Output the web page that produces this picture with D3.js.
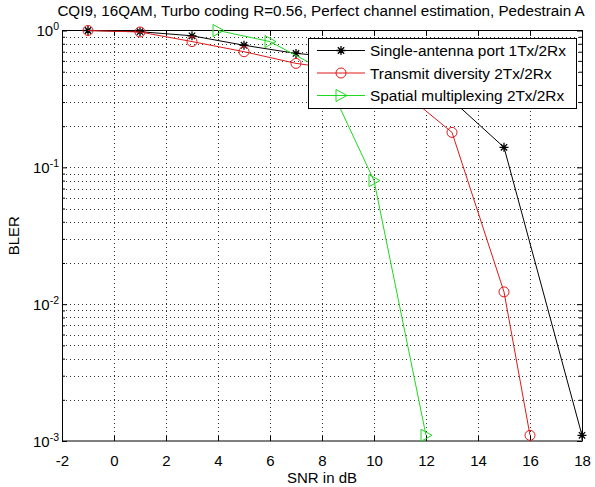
<!DOCTYPE html>
<html>
<head>
<meta charset="utf-8">
<script src="https://cdn.jsdelivr.net/npm/d3@7"></script>
<style>
  html, body { margin: 0; padding: 0; background: #fff; }
  svg { display: block; }
  text { font-family: "Liberation Sans", Arial, sans-serif; fill: #000; }
</style>
</head>
<body>
<svg id="chart" width="595" height="487"></svg>
<script>
// ---- data ----
const titleText = "CQI9, 16QAM, Turbo coding R=0.56, Perfect channel estimation, Pedestrain A";
const xLabel = "SNR in dB";
const yLabel = "BLER";
const xTicks = [-2, 0, 2, 4, 6, 8, 10, 12, 14, 16, 18];
const yExponents = [0, -1, -2, -3];

const seriesNames = ["Single-antenna port 1Tx/2Rx", "Transmit diversity 2Tx/2Rx", "Spatial multiplexing 2Tx/2Rx"];

const snrSingle = [-1, 1, 3, 5, 7, 9, 11, 13, 15, 18];
const blerSingle = [1.0, 0.98, 0.915, 0.78, 0.68, 0.63, 0.48, 0.31, 0.14, 0.0011];

const snrTxDiv = [-1, 1, 3, 5, 7, 9, 11, 13, 15, 16];
const blerTxDiv = [1.0, 0.975, 0.83, 0.70, 0.575, 0.51, 0.37, 0.18, 0.0123, 0.0011];

const snrSpatial = [4, 6, 8, 10, 12];
const blerSpatial = [1.0, 0.83, 0.52, 0.08, 0.0011];

// ---- layout ----
const svg = d3.select("#chart");
svg.append("rect").attr("width", 595).attr("height", 487).attr("fill", "#fff");

const L = 62, R = 582, T = 30.5, B = 441;
const FS = 15;
const x = d3.scaleLinear().domain([-2, 18]).range([L, R]);
const y = d3.scaleLog().domain([1e-3, 1]).range([B, T]);

// grid
const grid = svg.append("g").attr("stroke", "#333").attr("stroke-width", 1)
  .attr("stroke-dasharray", "1,3").attr("fill", "none").attr("shape-rendering", "crispEdges");
xTicks.slice(1, -1).forEach(v => {
  grid.append("line").attr("x1", Math.round(x(v)) + 0.5).attr("x2", Math.round(x(v)) + 0.5)
    .attr("y1", T).attr("y2", B);
});
const logTicks = [];
for (let e = -3; e < 0; e++) for (let m = 1; m <= 9; m++) logTicks.push(m * Math.pow(10, e));
logTicks.forEach(v => {
  if (v <= 1e-3 || v >= 1) return;
  grid.append("line").attr("x1", L).attr("x2", R)
    .attr("y1", Math.round(y(v)) + 0.5).attr("y2", Math.round(y(v)) + 0.5);
});

// axes (ticks inside) via d3 axes
const axB = svg.append("g").attr("transform", `translate(0,${B})`)
  .call(d3.axisBottom(x).tickValues(xTicks).tickSize(-5).tickPadding(14).tickFormat(d => String(d)));
const axT = svg.append("g").attr("transform", `translate(0,${T})`)
  .call(d3.axisTop(x).tickValues(xTicks).tickSize(-5).tickFormat(""));
const majorY = yExponents.map(e => Math.pow(10, e));
const axL = svg.append("g").attr("transform", `translate(${L},0)`)
  .call(d3.axisLeft(y).tickValues(majorY).tickSize(-5).tickPadding(5).tickFormat(""));
const axR = svg.append("g").attr("transform", `translate(${R},0)`)
  .call(d3.axisRight(y).tickValues(majorY).tickSize(-5).tickFormat(""));
const minorY = logTicks.filter(v => majorY.indexOf(v) < 0 && v > 1e-3 && v < 1);
svg.append("g").attr("transform", `translate(${L},0)`)
  .call(d3.axisLeft(y).tickValues(minorY).tickSize(-3).tickFormat(""));
svg.append("g").attr("transform", `translate(${R},0)`)
  .call(d3.axisRight(y).tickValues(minorY).tickSize(-3).tickFormat(""));
svg.selectAll(".domain").remove();
svg.selectAll(".tick line").attr("stroke", "#000");
axB.selectAll("text").attr("font-size", FS).attr("font-family", "Liberation Sans, Arial, sans-serif");

// y labels with superscripts
axL.selectAll(".tick").each(function(d) {
  const g = d3.select(this);
  const e = Math.round(Math.log10(d));
  const t = g.append("text").attr("x", -3).attr("dy", "0.36em")
    .attr("text-anchor", "end").attr("font-size", FS).attr("fill", "#000");
  t.append("tspan").text("10");
  t.append("tspan").attr("font-size", 10.5).attr("dy", -6).text(String(e));
});

// box
svg.append("rect").attr("x", L + 0.5).attr("y", T).attr("width", R - L).attr("height", B - T)
  .attr("fill", "none").attr("stroke", "#000").attr("stroke-width", 1);

// series
const colors = ["#000000", "#e01818", "#1ed81e"];
const seriesData = [
  snrSingle.map((s, i) => [s, blerSingle[i]]),
  snrTxDiv.map((s, i) => [s, blerTxDiv[i]]),
  snrSpatial.map((s, i) => [s, blerSpatial[i]])
];
const line = d3.line().x(d => x(d[0])).y(d => y(d[1]));

function drawMarker(g, kind, cx, cy, color) {
  if (kind === 0) {
    const r = 4.5;
    const p = [];
    [0, 90, 45, 135].forEach(a => {
      const rad = a * Math.PI / 180;
      p.push(`M${cx - r * Math.cos(rad)},${cy - r * Math.sin(rad)}L${cx + r * Math.cos(rad)},${cy + r * Math.sin(rad)}`);
    });
    g.append("path").attr("d", p.join("")).attr("stroke", color).attr("stroke-width", 1.3).attr("fill", "none");
  } else if (kind === 1) {
    g.append("circle").attr("cx", cx).attr("cy", cy).attr("r", 5).attr("fill", "none")
      .attr("stroke", color).attr("stroke-width", 1);
  } else {
    const h = 6, w = 5;
    g.append("path").attr("d", `M${cx - w},${cy - h}L${cx + w + 1},${cy}L${cx - w},${cy + h}Z`)
      .attr("fill", "none").attr("stroke", color).attr("stroke-width", 1);
  }
}

seriesData.forEach((data, k) => {
  const g = svg.append("g");
  g.append("path").attr("d", line(data)).attr("fill", "none").attr("stroke", colors[k]).attr("stroke-width", 1);
  data.forEach(d => drawMarker(g, k, x(d[0]), y(d[1]), colors[k]));
});

// legend
const lg = svg.append("g");
const lgX = 308, lgY = 38, lgW = 268, lgH = 70;
lg.append("rect").attr("x", lgX + 0.5).attr("y", lgY + 0.5).attr("width", lgW).attr("height", lgH)
  .attr("fill", "#fff").attr("stroke", "#000").attr("stroke-width", 1);
const rowY = [50.5, 73, 95.5];
seriesNames.forEach((name, k) => {
  lg.append("line").attr("x1", 317).attr("x2", 365).attr("y1", rowY[k]).attr("y2", rowY[k])
    .attr("stroke", colors[k]).attr("stroke-width", 1);
  drawMarker(lg, k, 341, rowY[k], colors[k]);
  lg.append("text").attr("x", 370).attr("y", rowY[k]).attr("dy", "0.36em")
    .attr("font-size", 15.4).text(name);
});

// title & labels
svg.append("text").attr("x", 321).attr("y", 16).attr("text-anchor", "middle")
  .attr("font-size", 15.2).text(titleText);
svg.append("text").attr("x", (L + R) / 2).attr("y", 483).attr("text-anchor", "middle")
  .attr("font-size", FS).text(xLabel);
svg.append("text").attr("transform", `translate(19,${(T + B) / 2}) rotate(-90)`)
  .attr("text-anchor", "middle").attr("font-size", FS).text(yLabel);
</script>
</body>
</html>
